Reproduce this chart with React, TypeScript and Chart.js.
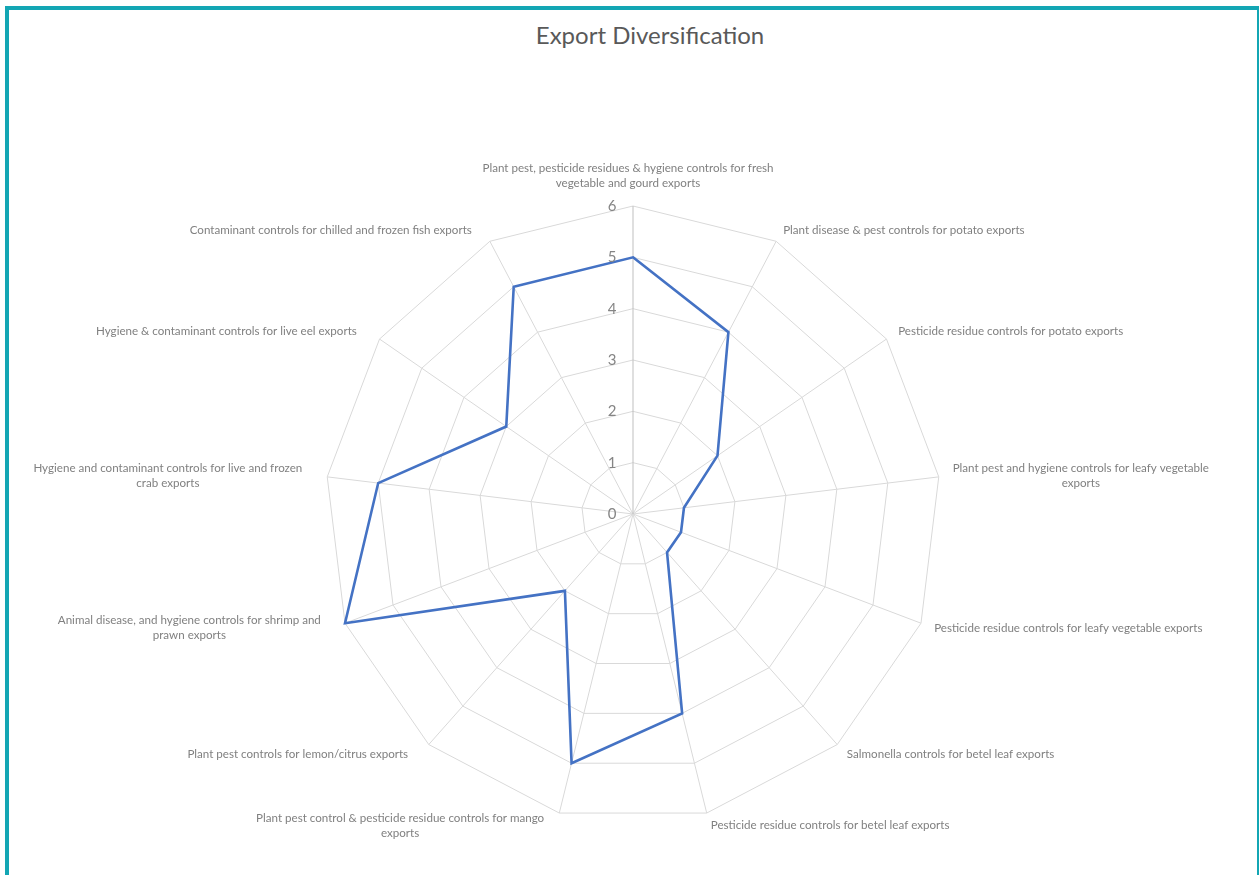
import React, { useEffect, useRef } from 'react';
import { Chart, registerables } from 'chart.js';

Chart.register(...registerables);

const TITLE = 'Export Diversification';

const CATEGORIES: string[][] = [
  ['Plant pest, pesticide residues & hygiene controls for fresh', 'vegetable and gourd exports'],
  ['Plant disease & pest controls for potato exports'],
  ['Pesticide residue controls for potato exports'],
  ['Plant pest and hygiene controls for leafy vegetable', 'exports'],
  ['Pesticide residue controls for leafy vegetable exports'],
  ['Salmonella controls for betel leaf exports'],
  ['Pesticide residue controls for betel leaf exports'],
  ['Plant pest control & pesticide residue controls for mango', 'exports'],
  ['Plant pest controls for lemon/citrus exports'],
  ['Animal disease, and hygiene controls for shrimp and', 'prawn exports'],
  ['Hygiene and contaminant controls for live and frozen', 'crab exports'],
  ['Hygiene & contaminant controls for live eel exports'],
  ['Contaminant controls for chilled and frozen fish exports'],
];

const VALUES: number[] = [5, 4, 2, 1, 1, 1, 4, 5, 2, 6, 5, 3, 5];

const TICK_LABELS: number[] = [0, 1, 2, 3, 4, 5, 6];

const LABEL_FONT = '11.6px Lato';
const LABEL_LINE = 15;
const LABEL_COLOR = '#808080';
const TICK_FONT = '15px Lato';
const TICK_COLOR = '#858585';

const excelLabels = {
  id: 'excelLabels',
  afterDraw(chart: any) {
    const scale = chart.scales.r;
    const ctx = chart.ctx;
    ctx.save();
    ctx.font = TICK_FONT;
    ctx.fillStyle = TICK_COLOR;
    ctx.textAlign = 'center';
    ctx.textBaseline = 'middle';
    TICK_LABELS.forEach((v) => {
      const d = scale.getDistanceFromCenterForValue(v);
      ctx.fillText(String(v), scale.xCenter - 21, scale.yCenter - d);
    });
    ctx.font = LABEL_FONT;
    ctx.fillStyle = LABEL_COLOR;
    CATEGORIES.forEach((lines, i) => {
      const p = scale.getPointPosition(i, scale.drawingArea + 13);
      const a = scale.getIndexAngle(i);
      const s = Math.sin(a);
      const c = Math.cos(a);
      const W = Math.max(...lines.map((l) => ctx.measureText(l).width));
      const H = lines.length * LABEL_LINE;
      let cx: number;
      let top: number;
      if (Math.abs(s) < 0.05) {
        cx = p.x - 5;
        top = c > 0 ? p.y - 2 - H : p.y + 2;
      } else if (s > 0) {
        cx = p.x + 1 + W / 2;
        top = p.y - H / 2;
      } else {
        cx = p.x - 12 - W / 2;
        top = p.y - H / 2;
      }
      lines.forEach((l, k) => {
        ctx.fillText(l, cx, top + LABEL_LINE * (k + 0.5));
      });
    });
    ctx.restore();
  },
};

export default function App() {
  const ref = useRef<HTMLCanvasElement | null>(null);

  useEffect(() => {
    if (!ref.current) return;
    const chart = new Chart(ref.current, {
      type: 'radar',
      data: {
        labels: CATEGORIES.map((l) => l.join(' ')),
        datasets: [
          {
            label: 'Export Diversification',
            data: VALUES,
            borderColor: '#4472c4',
            backgroundColor: 'rgba(0,0,0,0)',
            borderWidth: 2.6,
            pointRadius: 0,
            pointHoverRadius: 0,
            fill: false,
            tension: 0,
          },
        ],
      },
      options: {
        responsive: false,
        animation: false,
        devicePixelRatio: 1,
        layout: { padding: { top: 206, left: 325, right: 318, bottom: 53 } },
        plugins: {
          legend: { display: false },
          title: { display: false },
          tooltip: { enabled: false },
        },
        scales: {
          r: {
            min: 0,
            max: 6,
            ticks: { display: false, stepSize: 1 },
            pointLabels: { display: false },
            grid: { color: '#d9d9d9', lineWidth: 1, circular: false },
            angleLines: {
              display: true,
              color: (ctx: any) => (ctx.index === 0 ? '#bfbfbf' : '#d9d9d9'),
              lineWidth: 1,
            },
          },
        },
      },
      plugins: [excelLabels],
    } as any);
    return () => chart.destroy();
  }, []);

  return (
    <div>
      <div
        style={{
          position: 'fixed',
          left: 5,
          top: 6,
          width: 1256,
          height: 920,
          boxSizing: 'border-box',
          border: '4px solid #13a6b4',
          background: '#ffffff',
        }}
      />
      <div
        style={{
          position: 'fixed',
          left: 400,
          top: 21,
          width: 500,
          textAlign: 'center',
          fontFamily: 'Lato, sans-serif',
          fontSize: 24,
          lineHeight: '28px',
          color: '#595959',
          whiteSpace: 'nowrap',
        }}
      >
        {TITLE}
      </div>
      <canvas
        ref={ref}
        width={1259}
        height={875}
        style={{ position: 'fixed', left: 0, top: 0, width: 1259, height: 875 }}
      />
    </div>
  );
}
